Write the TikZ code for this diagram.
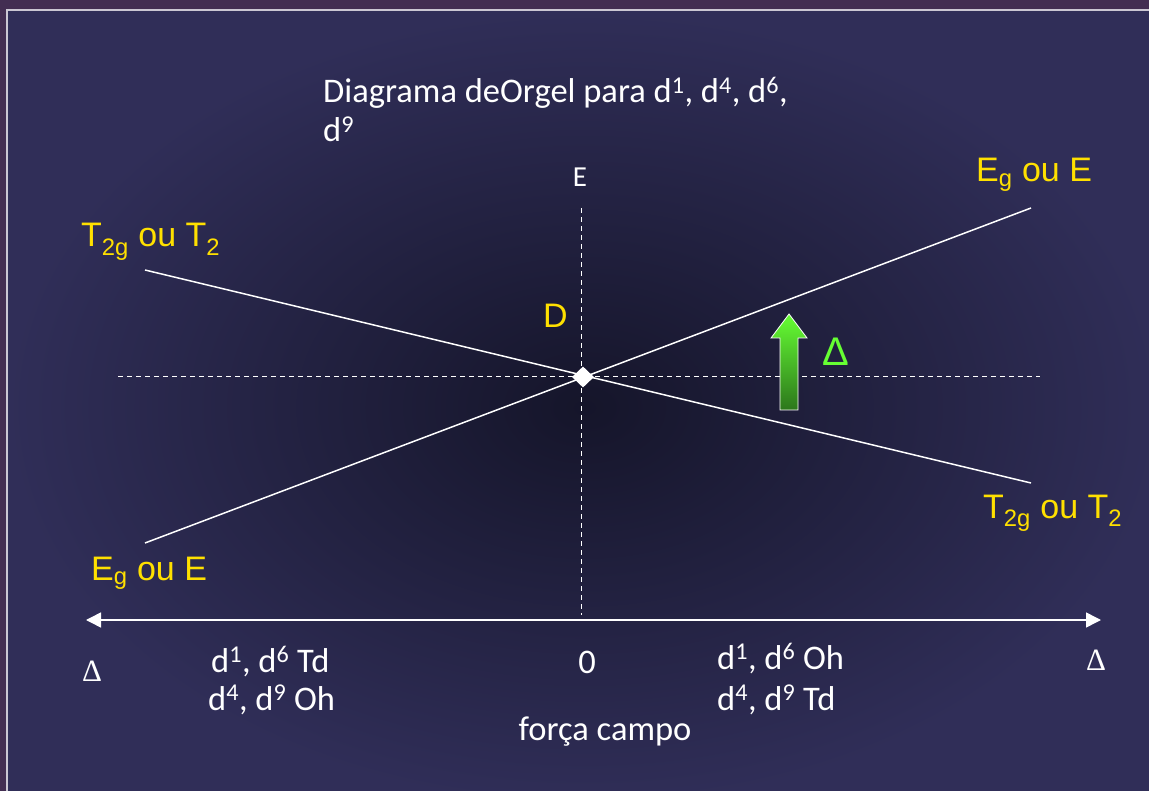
\documentclass[tikz,border=0pt]{standalone}
\usepackage{fontspec}
\setmainfont{Carlito}
\newfontfamily\labelfont{Liberation Sans}
\newfontfamily\greekfont{Liberation Serif}
\usetikzlibrary{arrows.meta,positioning,shapes.geometric}
\definecolor{slideframe}{HTML}{432E52}
\definecolor{slideline}{HTML}{CBC7D3}
\definecolor{slideedge}{HTML}{302E58}
\definecolor{slidecore}{HTML}{15152A}
\definecolor{termyellow}{HTML}{FFE000}
\definecolor{gainlight}{HTML}{66FF33}
\definecolor{gaindark}{HTML}{2C761C}

\begin{document}
\begin{tikzpicture}[
    x=1pt, y=-1pt,
    >={Triangle[length=15pt, width=15pt]},
    every node/.style={inner sep=0pt, text=white},
    txt/.style={font=\fontsize{34.5}{40}\selectfont, anchor=base west},
    term/.style={text=termyellow, font=\labelfont\fontsize{34}{40}\selectfont, anchor=base west},
    axdelta/.style={font=\greekfont\fontsize{31}{34}\selectfont},
    level/.style={draw=white, line width=1.5pt},
    guide/.style={draw=white, line width=1pt, dash pattern=on 5pt off 4pt},
  ]
    % slide background
    \useasboundingbox (0,0) rectangle (1149,791);
    \fill[slideframe] (0,0) rectangle (1149,791);
    \shade[inner color=slidecore, outer color=slideedge] (7,10) rectangle (1162,805);
    \draw[slideline, line width=1.6pt] (7,805) -- (7,10) -- (1162,10);

    % title
    \node[txt] (title) at (323,103) {Diagrama deOrgel para d\textsuperscript{1}, d\textsuperscript{4}, d\textsuperscript{6},};
    \node[txt] (title2) at (323,142) {d\textsuperscript{9}};

    % guide lines
    \node[font=\fontsize{29}{32}\selectfont, anchor=base] (elabel) at (580,187) {E};
    \coordinate (etop) at (581,208);
    \coordinate (ebot) at (581,615);
    \coordinate (hleft) at (118,377);
    \coordinate (hright) at (1040,377);
    \draw[guide] (etop) -- (ebot);
    \draw[guide] (hleft) -- (hright);

    % levels
    \coordinate (t2l) at (145,270);
    \coordinate (t2r) at (1031,483);
    \coordinate (egl) at (145,543);
    \coordinate (egr) at (1031,208);
    \draw[level] (t2l) -- (t2r);
    \draw[level] (egl) -- (egr);
    \node[diamond, fill=white, minimum width=22pt, minimum height=21pt] (cross) at (583,377) {};

    \node[term] (t2left) at (81,247) {T\textsubscript{2g} ou T\textsubscript{2}};
    \node[term] (egright) at (976,182) {E\textsubscript{g} ou E};
    \node[term] (t2right) at (983,518) {T\textsubscript{2g} ou T\textsubscript{2}};
    \node[term] (egleft) at (91,580) {E\textsubscript{g} ou E};
    \node[term] (dlabel) at (543,328) {D};

    % splitting arrow
    \shade[top color=gainlight, bottom color=gaindark, draw=white!85, line width=0.8pt]
      (789,314) -- (807,338) -- (798,338) -- (798,410) -- (780,410) -- (780,338) -- (771,338) -- cycle;
    \node[text=gainlight, font=\labelfont\fontsize{40}{44}\selectfont, anchor=base] (gain) at (836,366) {Δ};

    % field strength axis
    \coordinate (axleft) at (86,620);
    \coordinate (axright) at (1101,620);
    \draw[<->, white, line width=1.5pt] (axleft) -- (axright);
    \node[axdelta, anchor=base] (dleft) at (92,681) {Δ};
    \node[axdelta, anchor=base] (dright) at (1096,670) {Δ};
    \node[txt, anchor=base] (zero) at (587,673) {0};
    \node[txt] (tdleft) at (211,672) {d\textsuperscript{1}, d\textsuperscript{6} Td};
    \node[txt] (ohleft) at (208,710) {d\textsuperscript{4}, d\textsuperscript{9} Oh};
    \node[txt] (ohright) at (717,669) {d\textsuperscript{1}, d\textsuperscript{6} Oh};
    \node[txt] (tdright) at (717,710) {d\textsuperscript{4}, d\textsuperscript{9} Td};
    \node[txt, anchor=base] (field) at (605,740) {força campo};
\end{tikzpicture}
\end{document}
